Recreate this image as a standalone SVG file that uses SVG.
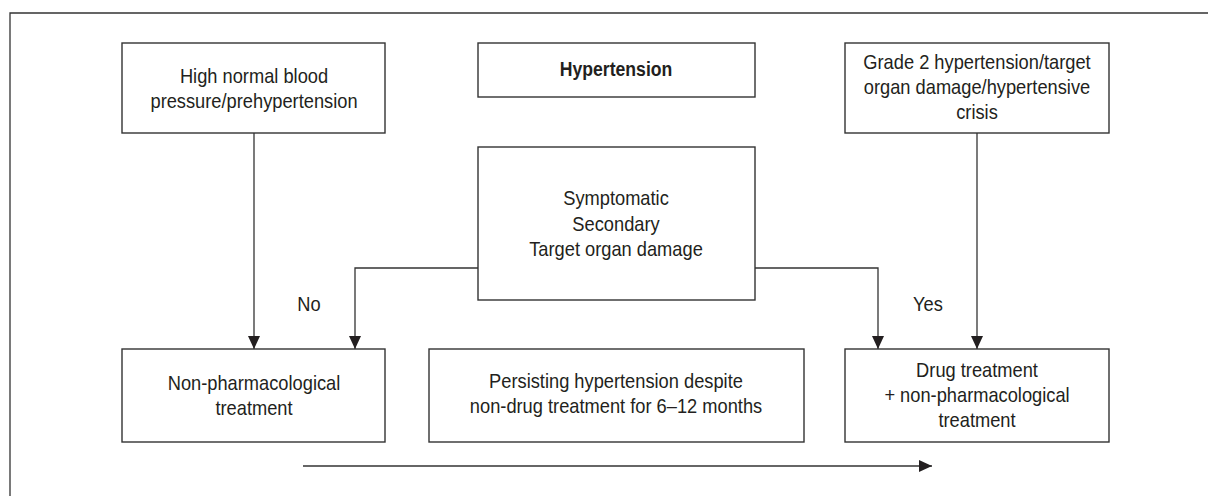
<svg xmlns="http://www.w3.org/2000/svg" width="1208" height="496" viewBox="0 0 1208 496">
<style>
.box{fill:#fff;stroke:#333;stroke-width:1.4}
.ln{fill:none;stroke:#333;stroke-width:1.3}
text{font-family:"Liberation Sans",Arial,sans-serif;font-size:21px;fill:#231f20;text-anchor:middle}
.b{font-weight:bold}
</style>
<defs>
<marker id="ah" markerWidth="13" markerHeight="12" refX="13" refY="6" orient="auto" markerUnits="userSpaceOnUse">
<path d="M0,0 L13,6 L0,12 Z" fill="#231f20"/>
</marker>
</defs>
<rect width="1208" height="496" fill="#fff"/>
<path class="ln" d="M10,496 V13 H1208"/>
<g id="connectors">
<path class="ln" d="M254,133 V349" marker-end="url(#ah)"/>
<path class="ln" d="M977,133 V349" marker-end="url(#ah)"/>
<path class="ln" d="M478,268 H355 V349" marker-end="url(#ah)"/>
<path class="ln" d="M755,268 H878 V349" marker-end="url(#ah)"/>
<path class="ln" d="M303,466 H932" marker-end="url(#ah)"/>
<text transform="translate(309 311) scale(0.87 1)">No</text>
<text transform="translate(928 311) scale(0.87 1)">Yes</text>
</g>
<g id="n-highnormal">
<rect class="box" x="122" y="43" width="263" height="90"/>
<text transform="translate(254 83) scale(0.87 1)">High normal blood</text>
<text transform="translate(254 108) scale(0.87 1)">pressure/prehypertension</text>
</g>
<g id="n-hypertension">
<rect class="box" x="478" y="43" width="277" height="54"/>
<text class="b" transform="translate(616 76) scale(0.84 1)">Hypertension</text>
</g>
<g id="n-symptomatic">
<rect class="box" x="478" y="147" width="277" height="153"/>
<text transform="translate(616 205) scale(0.87 1)">Symptomatic</text>
<text transform="translate(616 231) scale(0.87 1)">Secondary</text>
<text transform="translate(616 256) scale(0.87 1)">Target organ damage</text>
</g>
<g id="n-grade2">
<rect class="box" x="845" y="43" width="264" height="90"/>
<text transform="translate(977 69) scale(0.87 1)">Grade 2 hypertension/target</text>
<text transform="translate(977 94) scale(0.87 1)">organ damage/hypertensive</text>
<text transform="translate(977 119) scale(0.87 1)">crisis</text>
</g>
<g id="n-nonpharm">
<rect class="box" x="122" y="349" width="263" height="93"/>
<text transform="translate(254 390) scale(0.87 1)">Non-pharmacological</text>
<text transform="translate(254 415) scale(0.87 1)">treatment</text>
</g>
<g id="n-persisting">
<rect class="box" x="429" y="349" width="375" height="93"/>
<text transform="translate(616 388) scale(0.87 1)">Persisting hypertension despite</text>
<text transform="translate(616 413) scale(0.87 1)">non-drug treatment for 6–12 months</text>
</g>
<g id="n-drug">
<rect class="box" x="845" y="349" width="264" height="93"/>
<text transform="translate(977 377) scale(0.87 1)">Drug treatment</text>
<text transform="translate(977 402) scale(0.87 1)">+ non-pharmacological</text>
<text transform="translate(977 427) scale(0.87 1)">treatment</text>
</g>
</svg>
